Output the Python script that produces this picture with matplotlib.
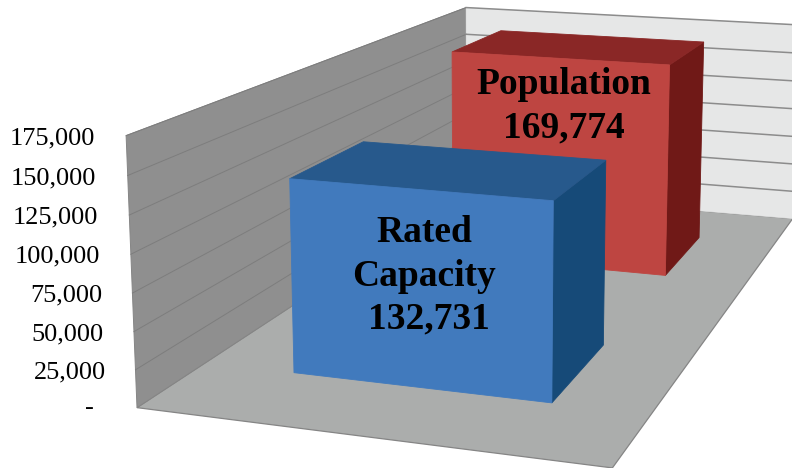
"""3-D perspective column chart: rated capacity vs population."""

import matplotlib
matplotlib.use("Agg")

import matplotlib.pyplot as plt
import numpy as np
from matplotlib.patches import Polygon

SERIES_NAMES = ["Population", "Rated Capacity"]
SERIES_VALUES = [169774, 132731]
LABEL_LINES = [["Population", "169,774"], ["Rated", "Capacity", "132,731"]]
AXIS_VALUES = [0, 25000, 50000, 75000, 100000, 125000, 150000, 175000]
AXIS_LABELS = ["-", "25,000", "50,000", "75,000", "100,000", "125,000", "150,000", "175,000"]
AXIS_MAX = 175000

# depth bands along the series axis, and the column extent along the category axis
DEPTH_BANDS = [(0.65, 0.85), (0.15, 0.35)]
COLUMN_SPAN = (0.21, 0.79)

# camera calibration: box coordinates (x, depth, height) and where they land in the image
CAL_BOX = [
    (0, 0, 0), (0, 0, 1), (0, 1, 1), (0, 1, 0), (1, 0, 0), (1, 1, 0), (1, 1, 1),
    (0.21, 0.15, 0), (0.79, 0.15, 0), (0.79, 0.35, 0),
    (0.21, 0.15, 0.7585), (0.79, 0.15, 0.7585), (0.21, 0.35, 0.7585), (0.79, 0.35, 0.7585),
    (0.79, 0.65, 0), (0.79, 0.85, 0),
    (0.21, 0.65, 0.9701), (0.79, 0.65, 0.9701), (0.21, 0.85, 0.9701), (0.79, 0.85, 0.9701),
]
CAL_IMAGE = [
    (137, 405.5), (124.3, 136), (465.5, 7.5), (465.5, 192.5), (615, 468), (795, 219), (795, 24),
    (294.5, 371.7), (550, 403.3), (602.3, 345),
    (290, 180), (552.7, 201.7), (363.3, 142), (606, 160.7),
    (664, 275), (699, 237.7),
    (453.3, 52.3), (670.7, 65), (503.3, 30), (705.7, 41.3),
]

FLOOR_COLOR = "#ABADAC"
SIDE_WALL_COLOR = "#8F8F8F"
BACK_WALL_COLOR = "#E6E7E7"
SIDE_GRID_COLOR = "#7D7D7D"
BACK_GRID_COLOR = "#8C8C8C"
COLUMN_COLORS = [
    {"front": "#BE4541", "top": "#8A2726", "side": "#701917"},
    {"front": "#417ABD", "top": "#27598C", "side": "#164A78"},
]
TEXT_FONT = ["Liberation Serif", "DejaVu Serif"]


def fit_camera():
    """Least-squares projection matrix from the calibration points."""
    rows = []
    targets = []
    for (x, d, z), (u, v) in zip(CAL_BOX, CAL_IMAGE):
        rows.append([x, d, z, 1, 0, 0, 0, 0, -u * x, -u * d, -u * z])
        targets.append(u)
        rows.append([0, 0, 0, 0, x, d, z, 1, -v * x, -v * d, -v * z])
        targets.append(v)
    solution = np.linalg.lstsq(np.array(rows), np.array(targets), rcond=None)[0]
    return np.append(solution, 1).reshape(3, 4)


CAMERA = fit_camera()


def project(x, d, z):
    """Project one box coordinate to image pixels."""
    h = CAMERA @ np.array([x, d, z, 1.0])
    return h[:2] / h[2]


def draw_face(ax, corners, color, edge=None, lw=0.0, zorder=1):
    points = [project(*corner) for corner in corners]
    ax.add_patch(Polygon(points, closed=True, facecolor=color, edgecolor=edge or color,
                         linewidth=lw, zorder=zorder))


def draw_box_walls(ax):
    draw_face(ax, [(0, 0, 0), (1, 0, 0), (1, 1, 0), (0, 1, 0)], FLOOR_COLOR, "#858585", 0.9, 1)
    draw_face(ax, [(0, 0, 0), (0, 1, 0), (0, 1, 1), (0, 0, 1)], SIDE_WALL_COLOR, "#858585", 0.7, 1)
    draw_face(ax, [(0, 1, 0), (1, 1, 0), (1, 1, 1), (0, 1, 1)], BACK_WALL_COLOR, BACK_WALL_COLOR, 0.5, 1)

    for value in AXIS_VALUES[1:]:
        z = value / AXIS_MAX
        front = project(0, 0, z)
        corner = project(0, 1, z)
        right = project(1, 1, z)
        ax.plot([front[0], corner[0]], [front[1], corner[1]], color=SIDE_GRID_COLOR, lw=0.7, zorder=2)
        ax.plot([corner[0], right[0]], [corner[1], right[1]], color=BACK_GRID_COLOR, lw=1.1, zorder=2)


def draw_column(ax, value, band, colors, zorder):
    x0, x1 = COLUMN_SPAN
    d0, d1 = band
    z = value / AXIS_MAX
    draw_face(ax, [(x1, d0, 0), (x1, d1, 0), (x1, d1, z), (x1, d0, z)], colors["side"], lw=0.6, zorder=zorder)
    draw_face(ax, [(x0, d0, z), (x1, d0, z), (x1, d1, z), (x0, d1, z)], colors["top"], lw=0.6, zorder=zorder)
    draw_face(ax, [(x0, d0, 0), (x1, d0, 0), (x1, d0, z), (x0, d0, z)], colors["front"], lw=0.6, zorder=zorder)


def draw_axis_labels(ax):
    for value, label in zip(AXIS_VALUES, AXIS_LABELS):
        z = value / AXIS_MAX
        x, y = project(0, 0, z)
        # the accounting-style dash sits further in than the numbers
        if value == 0:
            ax.text(x - 43, y, label, ha="right", va="center", fontsize=18.9,
                    family=TEXT_FONT, color="black", zorder=5)
        else:
            ax.text(x - 29.5 - 2 * z, y + 2.5, label, ha="right", va="center", fontsize=18.9,
                    family=TEXT_FONT, color="black", zorder=5)


def draw_column_labels(ax):
    line_height = 43
    centers = [(563.5, 85), (424.5, 233)]
    for lines, (cx, first_y) in zip(LABEL_LINES, centers):
        for index, line in enumerate(lines):
            shift = 4 if line == "132,731" else 0
            ax.text(cx + shift, first_y + index * line_height, line, ha="center", va="center",
                    fontsize=27, fontweight="bold", family=TEXT_FONT, color="black", zorder=6)


def main() -> None:
    fig = plt.figure(figsize=(7.92, 4.68), dpi=100)
    ax = fig.add_axes([0, 0, 1, 1])
    ax.set_xlim(0, 792)
    ax.set_ylim(468, 0)
    ax.axis("off")

    draw_box_walls(ax)
    for order, (value, band, colors) in enumerate(zip(SERIES_VALUES, DEPTH_BANDS, COLUMN_COLORS)):
        draw_column(ax, value, band, colors, zorder=3 + order * 0.1)
    draw_axis_labels(ax)
    draw_column_labels(ax)

    fig.savefig("out.png", dpi=100)
    plt.close(fig)


if __name__ == "__main__":
    main()
